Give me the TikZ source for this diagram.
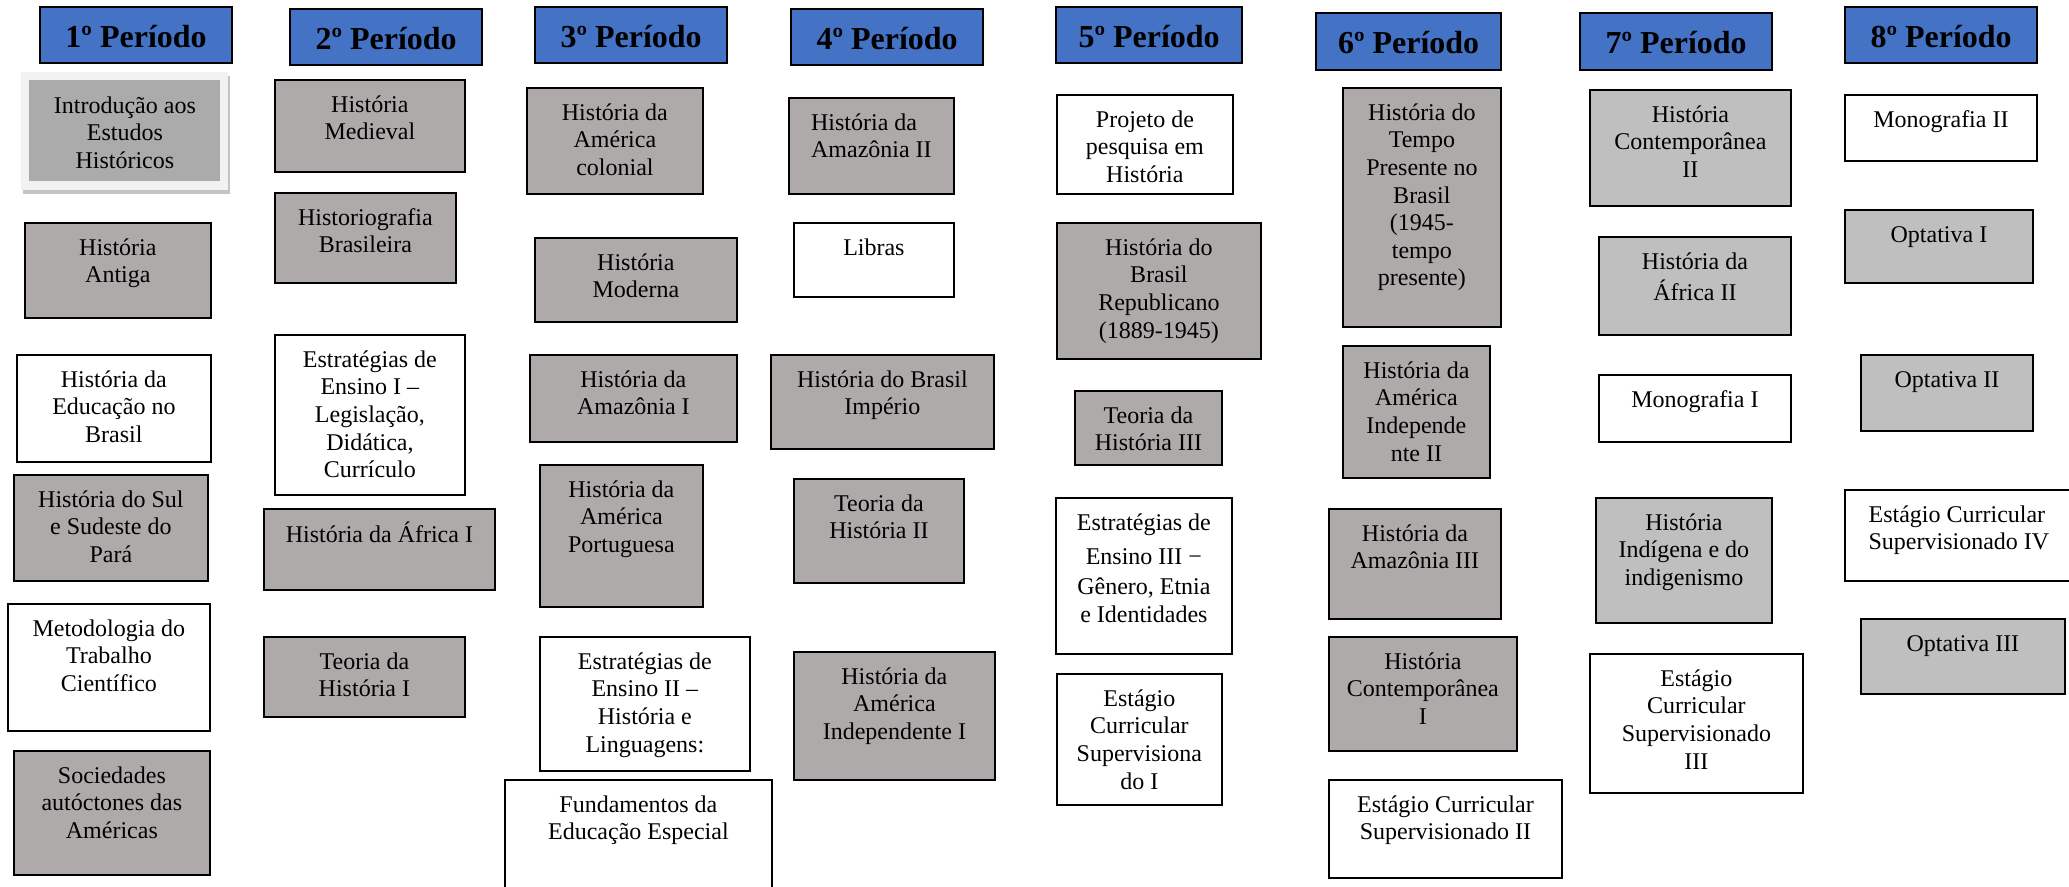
\documentclass[tikz,border=0pt]{standalone}
\usepackage{fontspec}
\setmainfont{Liberation Serif}
\definecolor{hdrblue}{HTML}{4472C4}
\definecolor{warmgray}{HTML}{AEAAAA}
\definecolor{lightgraytwo}{HTML}{BFBFBF}
\definecolor{introgray}{HTML}{ABABAB}
\definecolor{framegray}{HTML}{F2F2F2}
\definecolor{shadowgray}{HTML}{C4C4C4}
\tikzset{
  boxbase/.style={draw=black, line width=0.9pt, inner sep=0pt, anchor=north west},
  gbox/.style={boxbase, fill=warmgray},
  lbox/.style={boxbase, fill=lightgraytwo},
  wbox/.style={boxbase, fill=white},
  ibox/.style={inner sep=0pt, anchor=north west, fill=introgray},
  hbox/.style={boxbase, fill=hdrblue, line width=1.1pt},
  txt/.style={inner sep=0pt, align=center, font=\fontsize{12}{13.8}\selectfont},
  htxt/.style={inner sep=0pt, anchor=base, font=\fontsize{16}{18}\selectfont\bfseries},
}
\newcommand\coursebox[8][center]{%
  \node[#7, minimum width={(#5-#3)*0.5pt}, minimum height={(#6-#4)*0.5pt}] (#2) at (#3,#4) {};
  \node[txt, align=#1, anchor=north] (#2-t) at ([yshift=-6.8pt]#2.north) {\strut #8};
}
\newcommand\periodbox[6]{%
  \node[hbox, minimum width={(#4-#2)*0.5pt}, minimum height={(#5-#3)*0.5pt}] (#1) at (#2,#3) {};
  \node[htxt] (#1-t) at ([yshift=-21pt]#1.north) {#6};
}
\begin{document}
\begin{tikzpicture}[x=0.5pt, y=-0.5pt]
\useasboundingbox[fill=white] (0,0) rectangle (2069,887);
% headers
\periodbox{h1}{39}{6}{231}{62}{1º Período}
\periodbox{h2}{289}{8}{481}{64}{2º Período}
\periodbox{h3}{534}{6}{726}{62}{3º Período}
\periodbox{h4}{790}{8}{982}{64}{4º Período}
\periodbox{h5}{1055}{6}{1241}{62}{5º Período}
\periodbox{h6}{1315}{12}{1500}{69}{6º Período}
\periodbox{h7}{1579}{12}{1771}{69}{7º Período}
\periodbox{h8}{1844}{6}{2036}{62}{8º Período}
% column 1
\node[fill=shadowgray, inner sep=0pt, anchor=north west, minimum width={207*0.5pt}, minimum height={118*0.5pt}] (intro-shadow) at (23,76) {};
\node[fill=framegray, inner sep=0pt, anchor=north west, minimum width={207*0.5pt}, minimum height={118*0.5pt}] (intro-frame) at (21,72) {};
\coursebox{c11}{29}{80}{220}{181}{ibox}{Introdução aos\\Estudos\\Históricos}
\coursebox{c12}{24}{222}{210}{317}{gbox}{História\\Antiga}
\coursebox{c13}{16}{354}{210}{461}{wbox}{História da\\Educação no\\Brasil}
\coursebox{c14}{13}{474}{207}{580}{gbox}{História do Sul\\e Sudeste do\\Pará}
\coursebox{c15}{7}{603}{209}{730}{wbox}{Metodologia do\\Trabalho\\Científico}
\coursebox{c16}{13}{750}{209}{874}{gbox}{Sociedades\\autóctones das\\Américas}
% column 2
\coursebox{c21}{274}{79}{464}{171}{gbox}{História\\Medieval}
\coursebox{c22}{274}{192}{455}{282}{gbox}{Historiografia\\Brasileira}
\coursebox{c23}{274}{334}{464}{494}{wbox}{Estratégias de\\Ensino I –\\Legislação,\\Didática,\\Currículo}
\coursebox{c24}{263}{508}{494}{589}{gbox}{História da África I}
\coursebox{c25}{263}{636}{464}{716}{gbox}{Teoria da\\História I}
% column 3
\coursebox{c31}{526}{87}{702}{193}{gbox}{História da\\América\\colonial}
\coursebox{c32}{534}{237}{736}{321}{gbox}{História\\Moderna}
\coursebox{c33}{529}{354}{736}{441}{gbox}{História da\\Amazônia I}
\coursebox{c34}{539}{464}{702}{606}{gbox}{História da\\América\\Portuguesa}
\coursebox{c35}{539}{636}{749}{770}{wbox}{Estratégias de\\Ensino II –\\História e\\Linguagens:}
\coursebox{c36}{504}{779}{771}{892}{wbox}{Fundamentos da\\Educação Especial}
% column 4
\coursebox[left]{c41}{788}{97}{953}{193}{gbox}{História da\\Amazônia II}
\coursebox{c42}{793}{222}{953}{296}{wbox}{Libras}
\coursebox{c43}{770}{354}{993}{448}{gbox}{História do Brasil\\Império}
\coursebox{c44}{793}{478}{963}{582}{gbox}{Teoria da\\História II}
\coursebox{c45}{793}{651}{994}{779}{gbox}{História da\\América\\Independente I}
% column 5
\coursebox{c51}{1056}{94}{1232}{193}{wbox}{Projeto de\\pesquisa em\\História}
\coursebox{c52}{1056}{222}{1260}{358}{gbox}{História do\\Brasil\\Republicano\\(1889-1945)}
\coursebox{c53}{1074}{390}{1221}{464}{gbox}{Teoria da\\História III}
\coursebox{c54}{1055}{497}{1231}{653}{wbox}{Estratégias de\\[3.5pt]Ensino III −\\[1pt]Gênero, Etnia\\e Identidades}
\coursebox{c55}{1056}{673}{1221}{804}{wbox}{Estágio\\Curricular\\Supervisiona\\do I}
% column 6
\coursebox{c61}{1342}{87}{1500}{326}{gbox}{História do\\Tempo\\Presente no\\Brasil\\(1945-\\tempo\\presente)}
\coursebox{c62}{1342}{345}{1489}{477}{gbox}{História da\\América\\Independe\\nte II}
\coursebox{c63}{1328}{508}{1500}{618}{gbox}{História da\\Amazônia III}
\coursebox{c64}{1328}{636}{1516}{750}{gbox}{História\\Contemporânea\\I}
\coursebox{c65}{1328}{779}{1561}{877}{wbox}{Estágio Curricular\\Supervisionado II}
% column 7
\coursebox{c71}{1589}{89}{1790}{205}{lbox}{História\\Contemporânea\\II}
\coursebox{c72}{1598}{236}{1790}{334}{lbox}{História da\\África II}
\coursebox{c73}{1598}{374}{1790}{441}{wbox}{Monografia I}
\coursebox{c74}{1595}{497}{1771}{622}{lbox}{História\\Indígena e do\\indigenismo}
\coursebox{c75}{1589}{653}{1802}{792}{wbox}{Estágio\\Curricular\\Supervisionado\\III}
% column 8
\coursebox{c81}{1844}{94}{2036}{160}{wbox}{Monografia II}
\coursebox{c82}{1844}{209}{2032}{282}{lbox}{Optativa I}
\coursebox{c83}{1860}{354}{2032}{430}{lbox}{Optativa II}
\coursebox[left]{c84}{1844}{489}{2072}{580}{wbox}{Estágio Curricular\\Supervisionado IV}
\coursebox{c85}{1860}{618}{2064}{693}{lbox}{Optativa III}
\end{tikzpicture}
\end{document}
